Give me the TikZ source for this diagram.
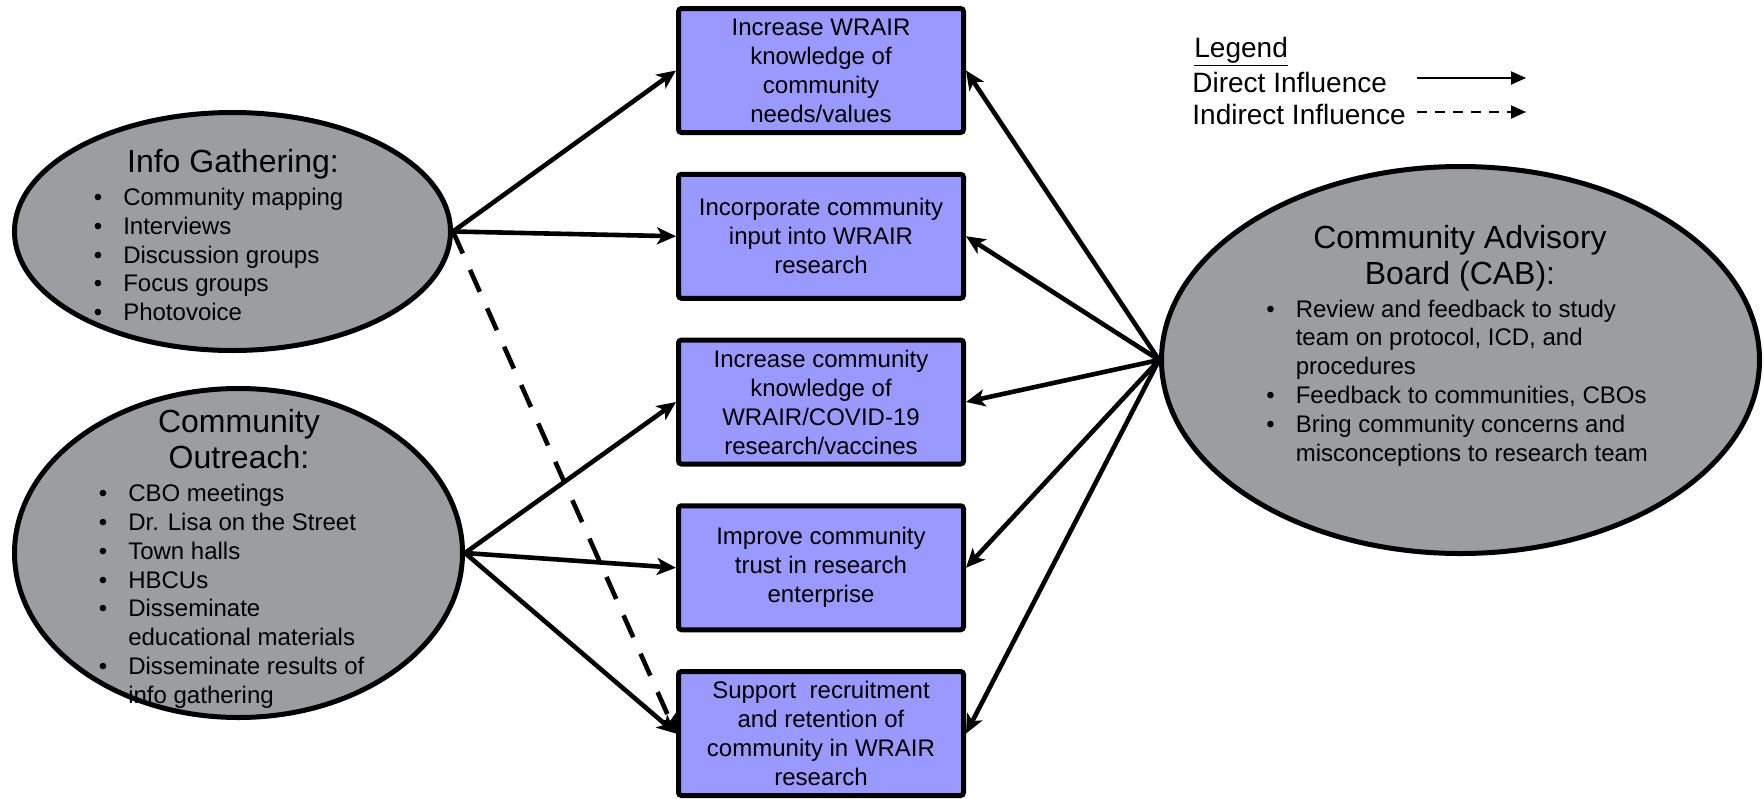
\documentclass[tikz,border=0pt]{standalone}
\usepackage{fontspec}
\setmainfont{Liberation Sans}
\usepackage{tikz}
\usetikzlibrary{arrows.meta,positioning,shapes.geometric}
\definecolor{blobgray}{RGB}{156,157,161}
\definecolor{goalblue}{RGB}{153,153,255}
\newcommand{\titlebox}[1]{\begin{tabular}[t]{@{}c@{}}#1\end{tabular}}
\newcommand{\bulletbox}[1]{\begin{tabular}[t]{@{}l@{\hspace{10.5pt}}l@{}}#1\end{tabular}}

\begin{document}
\begin{tikzpicture}[
  x=0.5pt, y=-0.5pt,
  font=\fontsize{12}{14.5}\selectfont,
  goal/.style={draw=black, fill=goalblue, line width=2.5pt, rounded corners=1.5pt,
               minimum width=142.5pt, minimum height=62pt, inner sep=0pt,
               align=center},
  blob/.style={ellipse, draw=black, fill=blobgray, line width=2.5pt, inner sep=0pt},
  hd/.style={font=\fontsize{16}{18}\selectfont, anchor=base, inner sep=0pt},
  lst/.style={font=\fontsize{12}{14.4}\selectfont, anchor=base west, inner sep=0pt},
  flow/.style={-{Stealth[length=9.5pt,width=8.5pt,inset=2.5pt]}, line width=2.3pt},
  indirect/.style={flow, dash pattern=on 12pt off 9pt},
  leg/.style={font=\fontsize{14}{16}\selectfont, anchor=base west, inner sep=0pt},
  legline/.style={-{Triangle[length=7.5pt,width=6.5pt]}, line width=1pt},
]
\useasboundingbox (0,0) rectangle (1764,798);

% ---- sources ----
\node[blob, minimum width=218pt, minimum height=119pt] (info)  at (232.5,231.5) {};
\node[blob, minimum width=224pt, minimum height=164.5pt] (reach) at (238.5,553) {};
\node[blob, minimum width=299pt, minimum height=193.5pt] (cab)   at (1460.5,360) {};

\node[hd] (infohd) at (233,172) {Info Gathering:};
\node[lst] (infolist) at (93.5,205.5) {\bulletbox{%
  \textbullet & Community mapping\\
  \textbullet & Interviews\\
  \textbullet & Discussion groups\\
  \textbullet & Focus groups\\
  \textbullet & Photovoice}};

\node[hd] (reachhd) at (239,432) {\titlebox{Community\\Outreach:}};
\node[lst] (reachlist) at (98.5,501.7) {\bulletbox{%
  \textbullet & CBO meetings\\
  \textbullet & Dr. Lisa on the Street\\
  \textbullet & Town halls\\
  \textbullet & HBCUs\\
  \textbullet & Disseminate\\
              & educational materials\\
  \textbullet & Disseminate results of\\
              & info gathering}};

\node[hd] (cabhd) at (1460,248) {\titlebox{Community Advisory\\Board (CAB):}};
\node[lst] (cablist) at (1266,317) {\bulletbox{%
  \textbullet & Review and feedback to study\\
              & team on protocol, ICD, and\\
              & procedures\\
  \textbullet & Feedback to communities, CBOs\\
  \textbullet & Bring community concerns and\\
              & misconceptions to research team}};

% ---- goals ----
\node[goal] (g1) at (821,70.5)   {Increase WRAIR\\knowledge of\\community\\needs/values};
\node[goal] (g2) at (821,236.25) {Incorporate community\\input into WRAIR\\research};
\node[goal] (g3) at (821,402)    {Increase community\\knowledge of\\WRAIR/COVID-19\\research/vaccines};
\node[goal] (g4) at (821,567.75) {Improve community\\trust in research\\enterprise};
\node[goal] (g5) at (821,733.5)  {Support\ \ recruitment\\and retention of\\community in WRAIR\\research};

% ---- influences ----
\foreach \i in {1,2}
  \draw[flow] (info.east) -- (g\i.west);
\draw[indirect] (info.east) -- (g5.west);
\foreach \i in {3,4,5}
  \draw[flow] (reach.east) -- (g\i.west);
\foreach \i in {1,...,5}
  \draw[flow] (cab.west) -- (g\i.east);

% ---- legend ----
\node[leg] (leghd)  at (1194,57)  {\underline{Legend}};
\node[leg] (legdir) at (1192,92)  {Direct Influence};
\node[leg] (legind) at (1192,124) {Indirect Influence};
\coordinate (d0) at (1417,78);
\coordinate (d1) at (1526,78);
\coordinate (i0) at (1417,112);
\coordinate (i1) at (1526,112);
\draw[legline] (d0) -- (d1);
\draw[legline, dash pattern=on 5pt off 4pt] (i0) -- (i1);
\end{tikzpicture}
\end{document}
